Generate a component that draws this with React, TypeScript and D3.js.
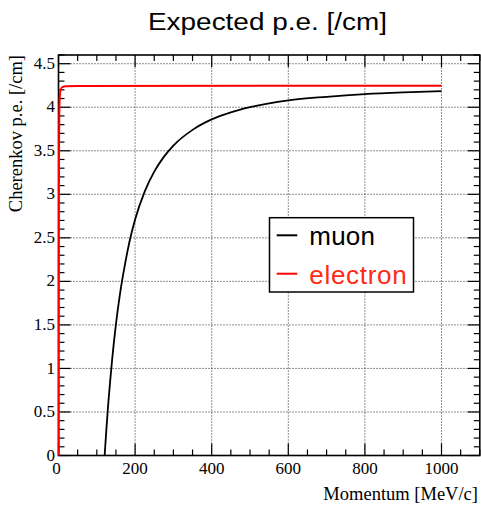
import React from "react";
import * as d3 from "d3";

// Cherenkov photo-electron yield per cm versus particle momentum
const muonMomentum = [120.5, 125, 130, 135, 140, 150, 160, 175, 185, 200, 225, 250, 275, 300, 350, 400, 450, 500, 600, 700, 800, 900, 1000];
const muonPe = [0, 0.3, 0.6, 0.86, 1.1, 1.51, 1.84, 2.23, 2.45, 2.71, 3.03, 3.26, 3.43, 3.56, 3.74, 3.86, 3.94, 4.0, 4.08, 4.12, 4.15, 4.17, 4.185];

const electronMomentum = [0.58, 0.6, 0.7, 0.8, 1, 1.5, 2, 3, 5, 10, 20, 50, 1000];
const electronPe = [0, 0.24, 1.3, 1.99, 2.81, 3.61, 3.89, 4.09, 4.19, 4.23, 4.24, 4.245, 4.247];

const xMajorTicks = [0, 200, 400, 600, 800, 1000];
const yMajorTicks = [0, 0.5, 1, 1.5, 2, 2.5, 3, 3.5, 4, 4.5];
const yTickLabels = ["0", "0.5", "1", "1.5", "2", "2.5", "3", "3.5", "4", "4.5"];

const legendNames = ["muon", "electron"];

const W = 481;
const H = 506;
const L = 58.5, R = 479.8, T = 55, B = 455.5;

export default function App() {
  const x = d3.scaleLinear().domain([0, 1100]).range([L, R]);
  const y = d3.scaleLinear().domain([0, 4.6]).range([B, T]);

  const xMinor = d3.range(0, 1101, 50).filter((v) => v % 200 !== 0);
  const yMinor = d3.range(0, 47, 1).map((v) => v / 10).filter((v) => Math.round(v * 10) % 5 !== 0);

  const line = d3
    .line<[number, number]>()
    .x((d) => x(d[0]))
    .y((d) => y(d[1]))
    .curve(d3.curveMonotoneX);

  const muon = line(muonMomentum.map((p, i) => [p, muonPe[i]] as [number, number])) || "";
  const electron = line(electronMomentum.map((p, i) => [p, electronPe[i]] as [number, number])) || "";

  const serif = "'Liberation Serif', 'Times New Roman', serif";
  const sans = "'Liberation Sans', Arial, sans-serif";
  const red = "#ff0000";

  const majLen = 12;
  const minLen = 6;

  return (
    <svg
      width={W}
      height={H}
      style={{ position: "fixed", left: 0, top: 0, background: "#fff" }}
      xmlns="http://www.w3.org/2000/svg"
    >
      <rect x={0} y={0} width={W} height={H} fill="#fff" />

      {/* title */}
      <text x={148} y={29.5} fontFamily={sans} fontSize={23} textLength={239} lengthAdjust="spacingAndGlyphs" fill="#000">
        Expected p.e. [/cm]
      </text>

      {/* grid */}
      <g stroke="#222" strokeWidth={1} strokeDasharray="1 2">
        {xMajorTicks.filter((v) => v > 0).map((v) => (
          <line key={"gx" + v} x1={x(v)} x2={x(v)} y1={B} y2={T} />
        ))}
        {yMajorTicks.filter((v) => v > 0).map((v) => (
          <line key={"gy" + v} x1={L} x2={R} y1={y(v)} y2={y(v)} />
        ))}
      </g>

      {/* ticks on all four sides */}
      <g stroke="#000" strokeWidth={1.2}>
        {xMajorTicks.map((v) => (
          <g key={"xt" + v}>
            <line x1={x(v)} x2={x(v)} y1={B} y2={B - majLen} />
            <line x1={x(v)} x2={x(v)} y1={T} y2={T + majLen} />
          </g>
        ))}
        {xMinor.map((v) => (
          <g key={"xm" + v}>
            <line x1={x(v)} x2={x(v)} y1={B} y2={B - minLen} />
            <line x1={x(v)} x2={x(v)} y1={T} y2={T + minLen} />
          </g>
        ))}
        {yMajorTicks.map((v) => (
          <g key={"yt" + v}>
            <line x1={L} x2={L + majLen} y1={y(v)} y2={y(v)} />
            <line x1={R} x2={R - majLen} y1={y(v)} y2={y(v)} />
          </g>
        ))}
        {yMinor.map((v) => (
          <g key={"ym" + v}>
            <line x1={L} x2={L + minLen} y1={y(v)} y2={y(v)} />
            <line x1={R} x2={R - minLen} y1={y(v)} y2={y(v)} />
          </g>
        ))}
      </g>

      {/* frame */}
      <rect x={L} y={T} width={R - L} height={B - T} fill="none" stroke="#000" strokeWidth={1.6} />

      {/* curves */}
      <path d={muon} fill="none" stroke="#000" strokeWidth={1.8} />
      <path d={electron} fill="none" stroke={red} strokeWidth={2} />

      {/* tick labels */}
      <g fontFamily={serif} fontSize={17} fill="#000">
        {xMajorTicks.map((v) => (
          <text key={"xl" + v} x={x(v) - (v === 0 ? 2 : 0)} y={474} textAnchor="middle">
            {String(v)}
          </text>
        ))}
        {yMajorTicks.map((v, i) => (
          <text key={"yl" + v} x={55} y={y(v)} dy="0.3em" textAnchor="end">
            {yTickLabels[i]}
          </text>
        ))}
      </g>

      {/* axis titles */}
      <text x={478} y={500} fontFamily={serif} fontSize={18.5} textAnchor="end" fill="#000">
        Momentum [MeV/c]
      </text>
      <text
        transform={`translate(22,${T}) rotate(-90)`}
        fontFamily={serif}
        fontSize={18.5}
        textAnchor="end"
        fill="#000"
      >
        Cherenkov p.e. [/cm]
      </text>

      {/* legend */}
      <rect x={269.5} y={217.7} width={144} height={74.3} fill="#fff" stroke="#000" strokeWidth={1.5} />
      <line x1={276.7} x2={297.3} y1={235.3} y2={235.3} stroke="#000" strokeWidth={2} />
      <text x={309.3} y={245.3} fontFamily={sans} fontSize={26} textLength={65.7} lengthAdjust="spacing" fill="#000">
        {legendNames[0]}
      </text>
      <line x1={276.7} x2={297.3} y1={273.7} y2={273.7} stroke={red} strokeWidth={2} />
      <text x={309.3} y={283.7} fontFamily={sans} fontSize={26} textLength={97.4} lengthAdjust="spacing" fill="#ff2a14">
        {legendNames[1]}
      </text>
    </svg>
  );
}
